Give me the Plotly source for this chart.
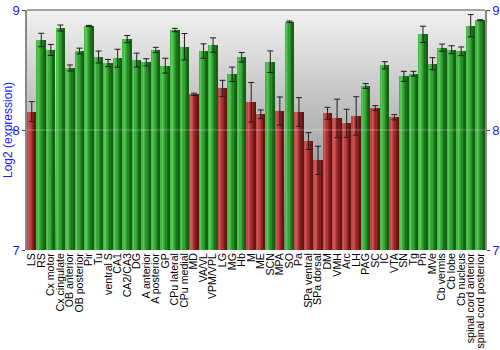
import plotly.graph_objects as go

# Brain regions and their mean log2 expression with standard errors
regions = ["LS", "RS", "Cx motor", "Cx cingulate", "OB anterior", "OB posterior", "Pir", "Tu",
           "ventral S", "CA1", "CA2/CA3", "DG", "A anterior", "A posterior", "GP", "CPu lateral",
           "CPu medial", "MD", "VA/VL", "VPM/VPL", "LG", "MG", "Hb", "M", "ME", "SCN", "MPA", "SO",
           "Pa", "SPa ventral", "SPa dorsal", "DM", "VMH", "Arc", "LH", "PAG", "SC", "IC", "VTA",
           "SN", "Tg", "Pn", "MVe", "Cb vermis", "Cb lobe", "Cb nucleus", "spinal cord anterior",
           "spinal cord posterior"]
expression = [8.153, 8.75, 8.667, 8.85, 8.517, 8.658, 8.867, 8.608, 8.558, 8.598, 8.758, 8.583,
              8.564, 8.667, 8.536, 8.833, 8.694, 8.297, 8.658, 8.708, 8.347, 8.464, 8.606, 8.231,
              8.131, 8.569, 8.158, 8.903, 8.15, 7.908, 7.747, 8.139, 8.097, 8.056, 8.117, 8.367,
              8.183, 8.539, 8.106, 8.447, 8.469, 8.797, 8.553, 8.686, 8.669, 8.656, 8.869, 8.914]
std_err = [0.083, 0.056, 0.046, 0.025, 0.025, 0.024, 0.005, 0.05, 0.03, 0.075, 0.03, 0.058,
           0.03, 0.022, 0.062, 0.014, 0.11, 0.01, 0.06, 0.06, 0.067, 0.06, 0.04, 0.165,
           0.036, 0.09, 0.117, 0.005, 0.12, 0.07, 0.118, 0.05, 0.16, 0.117, 0.16, 0.02,
           0.02, 0.03, 0.022, 0.042, 0.02, 0.068, 0.05, 0.03, 0.033, 0.036, 0.093, 0.005]
# regions flagged as low expression are drawn in red
low_flag = [1, 0, 0, 0, 0, 0, 0, 0, 0, 0, 0, 0, 0, 0, 0, 0, 0, 1, 0, 0, 1, 0, 0, 1,
            1, 0, 1, 0, 1, 1, 1, 1, 1, 1, 1, 0, 1, 0, 1, 0, 0, 0, 0, 0, 0, 0, 0, 0]

BLUE = "#1a1aff"
FONT = "Liberation Sans, Arial, sans-serif"

# vertical shading strips (left to right) giving each bar a rounded look
green_strips = ["#46b846", "#55c855", "#40b040", "#32a032", "#258a25", "#1b721b", "#156015"]
red_strips = ["#bf4646", "#cf5656", "#c04444", "#a83434", "#932626", "#7c1c1c", "#651414"]
bar_w = 0.92
n_strips = len(green_strips)
strip_w = bar_w / n_strips

fig = go.Figure()

for i in range(n_strips):
    colors = [red_strips[i] if f else green_strips[i] for f in low_flag]
    fig.add_trace(go.Bar(
        x=regions, y=expression,
        offset=-bar_w / 2 + i * strip_w,
        width=strip_w + 0.002,
        marker=dict(color=colors, line=dict(width=0)),
        hoverinfo="skip" if i else "x+y",
        showlegend=False,
    ))

fig.add_trace(go.Scatter(
    x=regions, y=expression, mode="markers",
    marker=dict(size=1, color="rgba(0,0,0,0)"),
    error_y=dict(type="data", array=std_err, color="#1e1e1e", thickness=1, width=3),
    showlegend=False, hoverinfo="skip",
))

# invisible trace so the right-hand axis is drawn
fig.add_trace(go.Scatter(x=[regions[0]], y=[7], yaxis="y2", mode="markers",
                         marker=dict(color="rgba(0,0,0,0)"), showlegend=False, hoverinfo="skip"))

# grey vertical gradient behind the bars
shapes = []
n_bands = 60
top_c, bot_c = 0xF0, 0x78
for k in range(n_bands):
    t = k / (n_bands - 1)
    g = int(round(top_c + (bot_c - top_c) * t))
    shapes.append(dict(type="rect", xref="x domain", yref="y domain",
                       x0=0, x1=1, y0=1 - (k + 1) / n_bands, y1=1 - k / n_bands + 0.002,
                       fillcolor=f"rgb({g},{g},{g})", line=dict(width=0), layer="below"))
# faint white grid line at 8
shapes.append(dict(type="line", xref="x domain", yref="y", x0=0, x1=1, y0=8, y1=8,
                   line=dict(color="rgba(255,255,255,0.3)", width=1), layer="above"))
# frame line along the top
shapes.append(dict(type="line", xref="x domain", yref="y domain", x0=0, x1=1, y0=1, y1=1,
                   line=dict(color="#888888", width=1.5), layer="above"))

yaxis_common = dict(range=[7, 9], tickvals=[7, 8, 9], ticks="outside", ticklen=3,
                    tickcolor="#444444", showline=True, linecolor="#888888", linewidth=1.5,
                    showgrid=False, zeroline=False, automargin=False,
                    tickfont=dict(color=BLUE, size=13, family=FONT))

PLOT_W = 500 - 27 - 15

fig.update_layout(
    width=500, height=350,
    margin=dict(l=27, r=15, t=10, b=100),
    paper_bgcolor="white", plot_bgcolor="#b0b0b0",
    barmode="overlay", bargap=0,
    shapes=shapes,
    xaxis=dict(tickangle=-90, tickfont=dict(size=10.6, color="black", family=FONT),
               tickmode="array", tickvals=regions, ticktext=regions, automargin=False,
               ticks="", showgrid=False, showline=False, zeroline=False,
               range=[-0.5, len(regions) - 0.5]),
    yaxis=dict(**yaxis_common, side="left"),
    yaxis2=dict(**yaxis_common, side="right", overlaying="y"),
    annotations=[dict(text="Log2 (expression)", xref="paper", yref="y", x=(8 - 27) / PLOT_W, y=8,
                      xanchor="center", yanchor="middle", textangle=-90, showarrow=False,
                      font=dict(color=BLUE, size=12, family=FONT))],
    font=dict(family=FONT),
)

fig.write_html("out.html")
